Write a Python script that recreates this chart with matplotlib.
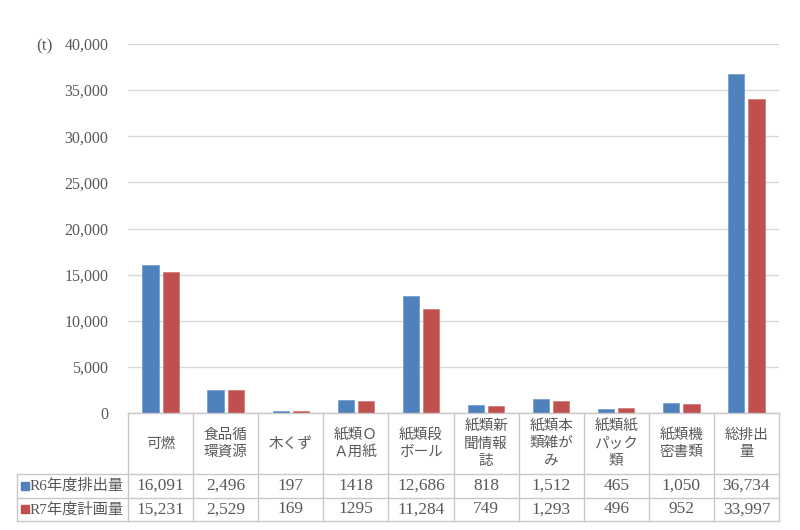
import matplotlib
matplotlib.use("Agg")
import matplotlib.pyplot as plt
import numpy as np
from matplotlib.patches import Rectangle
from matplotlib.lines import Line2D

categories = ["可燃", "食品循\n環資源", "木くず", "紙類Ｏ\nＡ用紙", "紙類段\nボール",
              "紙類新\n聞情報\n誌", "紙類本\n類雑が\nみ", "紙類紙\nパック\n類", "紙類機\n密書類", "総排出\n量"]
series_names = ["R6年度排出量", "R7年度計画量"]
r6_values = [16091, 2496, 197, 1418, 12686, 818, 1512, 465, 1050, 36734]
r7_values = [15231, 2529, 169, 1295, 11284, 749, 1293, 496, 952, 33997]
r6_labels = ["16,091", "2,496", "197", "1418", "12,686", "818", "1,512", "465", "1,050", "36,734"]
r7_labels = ["15,231", "2,529", "169", "1295", "11,284", "749", "1,293", "496", "952", "33,997"]
y_ticks = [0, 5000, 10000, 15000, 20000, 25000, 30000, 35000, 40000]
unit_label = "(t)"

FONT = ["Liberation Serif", "Noto Sans CJK JP", "DejaVu Sans"]
plt.rcParams['font.family'] = FONT
TXT = "#595959"
BLUE = "#4f81bd"
RED = "#c0504d"
GRID = "#d9d9d9"
BORDER = "#c8c8c8"

W, H = 800, 530
fig = plt.figure(figsize=(8, 5.3), dpi=100)

x0, x1 = 128, 779
y_top, y_zero = 44, 413
ax = fig.add_axes([x0 / W, 1 - y_zero / H, (x1 - x0) / W, (y_zero - y_top) / H])
n = len(categories)
x = np.arange(n)
bw = 0.25
gap = 0.06
ax.bar(x - (bw + gap) / 2, r6_values, width=bw, color=BLUE, edgecolor="#6f97c9", linewidth=0.5, zorder=3)
ax.bar(x + (bw + gap) / 2, r7_values, width=bw, color=RED, edgecolor="#cf7573", linewidth=0.5, zorder=3)
ax.set_xlim(-0.5, n - 0.5)
ax.set_ylim(0, 40000)
ax.set_yticks(y_ticks)
ax.set_yticklabels([f"{v:,}" for v in y_ticks], fontsize=11.5, color=TXT)
ax.tick_params(axis='y', length=0, pad=14)
ax.set_xticks([])
ax.yaxis.grid(True, color=GRID, linewidth=1, zorder=0)
for s in ax.spines.values():
    s.set_visible(False)
ax.text(44 / W, 1 - 46 / H, unit_label, transform=fig.transFigure, fontsize=12.5,
        color=TXT, ha="center", va="center")

# table
tb_top, tb_bot = 413, 521
tax = fig.add_axes([x0 / W, 1 - tb_bot / H, (x1 - x0) / W, (tb_bot - tb_top) / H])
tax.set_xlim(-0.5, n - 0.5)
tax.set_ylim(tb_bot - tb_top, 0)
tax.axis("off")
colw = (x1 - x0) / n
lab_left = -0.5 - (x0 - 17) / colw
h_head = 474 - tb_top
h_row = (tb_bot - 474) / 2.0
rows_y = [0, h_head, h_head + h_row, h_head + 2 * h_row]
kw = dict(color=BORDER, linewidth=1, clip_on=False)
tax.add_line(Line2D([-0.5, n - 0.5], [0, 0], **kw))
for yy in rows_y[1:]:
    tax.add_line(Line2D([lab_left, n - 0.5], [yy, yy], **kw))
for i in range(n + 1):
    tax.add_line(Line2D([i - 0.5, i - 0.5], [0, rows_y[-1]], **kw))
tax.add_line(Line2D([lab_left, lab_left], [h_head, rows_y[-1]], **kw))

for i, c in enumerate(categories):
    tax.text(i, h_head / 2, c, ha="center", va="center", fontsize=10.5, color=TXT,
             linespacing=1.3, family=["Noto Sans CJK JP", "DejaVu Sans"])
for r, (name, labs, col) in enumerate([(series_names[0], r6_labels, BLUE),
                                        (series_names[1], r7_labels, RED)]):
    yc = h_head + h_row * (r + 0.5)
    for i, lb in enumerate(labs):
        tax.text(i, yc, lb, ha="center", va="center", fontsize=12.5, color=TXT)
    sq = 8 / colw
    tax.add_patch(Rectangle((lab_left + 4 / colw, yc - 4), sq, 8, color=col, clip_on=False))
    tax.text(lab_left + 13 / colw, yc, name, ha="left", va="center", fontsize=11, color=TXT,
             family=["Liberation Serif", "Noto Sans CJK JP"])

fig.savefig("out.png", dpi=100)
